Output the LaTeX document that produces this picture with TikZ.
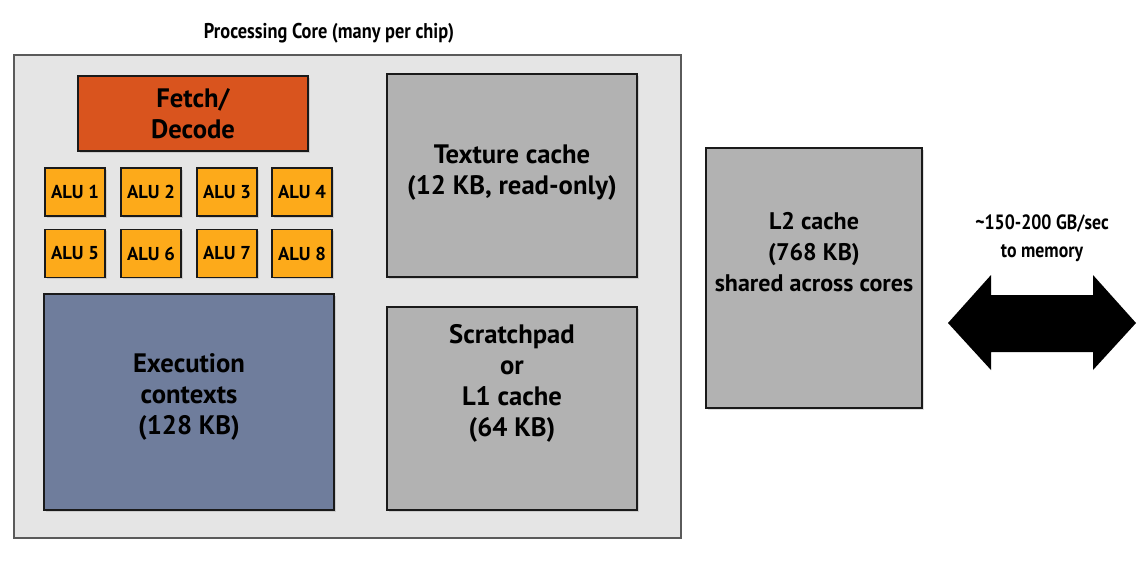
\documentclass[tikz,border=0pt]{standalone}
\usepackage{fontspec}
\setmainfont{PT Sans}
\newfontfamily\condfont[FakeStretch=0.86]{PT Sans}
\usetikzlibrary{shadows}
\definecolor{coreFill}{HTML}{E5E5E5}
\definecolor{coreLine}{HTML}{5A5A5A}
\definecolor{fetchFill}{HTML}{D9541E}
\definecolor{aluFill}{HTML}{FDAA1A}
\definecolor{execFill}{HTML}{6F7D9C}
\definecolor{cacheFill}{HTML}{B2B2B2}
\definecolor{boxLine}{HTML}{1A1A1A}
\tikzset{
  blk/.style={draw=boxLine, line width=1.1pt, inner sep=0pt,
    drop shadow={opacity=0.25, shadow xshift=1.2pt, shadow yshift=-1.2pt}},
  fetchbox/.style={blk, fill=fetchFill, minimum width=172.5pt, minimum height=56.25pt},
  alubox/.style={blk, fill=aluFill, minimum width=45pt, minimum height=36pt,
    font=\bfseries\fontsize{14}{16}\selectfont},
  execbox/.style={blk, fill=execFill, minimum width=217.5pt, minimum height=162pt},
  cachebox/.style={blk, fill=cacheFill, minimum width=187.5pt, minimum height=152.25pt},
  bigtxt/.style={align=center, font=\bfseries\fontsize{20}{23.25}\selectfont},
  l2txt/.style={align=center, font=\bfseries\fontsize{18}{23.25}\selectfont},
}
\begin{document}
\begin{tikzpicture}[x=0.75pt,y=-0.75pt]
\useasboundingbox (0,0) rectangle (1147,562);
% title
\node[font=\condfont\bfseries\fontsize{16}{18}\selectfont] (title) at (329,33) {Processing Core (many per chip)};
% core
\node[draw=coreLine, fill=coreFill, line width=1pt, minimum width=500.25pt, minimum height=362.25pt, inner sep=0pt] (core) at (347.5,296.5) {};
% fetch/decode
\node[fetchbox, bigtxt] (fd) at (193,113.5) {Fetch/\\Decode};
% ALUs
\node[alubox] (a1) at (75,192) {ALU 1};
\node[alubox] (a2) at (151,192) {ALU 2};
\node[alubox] (a3) at (227,192) {ALU 3};
\node[alubox] (a4) at (302,192) {ALU 4};
\node[alubox] (a5) at (75,253.5) {ALU 5};
\node[alubox] (a6) at (151,253.5) {ALU 6};
\node[alubox] (a7) at (227,253.5) {ALU 7};
\node[alubox] (a8) at (302,253.5) {ALU 8};
% execution contexts
\node[execbox] (exec) at (189,402) {};
\node[bigtxt] (execT) at (189,396.5) {Execution\\contexts\\(128 KB)};
% texture cache
\node[cachebox] (tex) at (512,175.5) {};
\node[bigtxt] (texT) at (512,172.5) {Texture cache\\(12 KB, read-only)};
% scratchpad
\node[cachebox] (scr) at (512,408.5) {};
\node[bigtxt] (scrT) at (512,383) {Scratchpad\\or\\L1 cache\\(64 KB)};
% L2
\node[blk, fill=cacheFill, minimum width=162pt, minimum height=195pt] (l2) at (814,278) {};
\node[l2txt] (l2T) at (814,252) {L2 cache\\(768 KB)\\shared across cores};
% memory label
\node[align=center, font=\condfont\bfseries\fontsize{15.5}{21}\selectfont] (memT) at (1042,238) {\textasciitilde150-200 GB/sec\\to memory};
% double arrow
\coordinate (ac) at (1042,323);
\fill[black] (948,323) -- (991,275) -- (991,295) -- (1093,295) -- (1093,275) -- (1136,323)
  -- (1093,370) -- (1093,352) -- (991,352) -- (991,370) -- cycle;
\end{tikzpicture}
\end{document}
